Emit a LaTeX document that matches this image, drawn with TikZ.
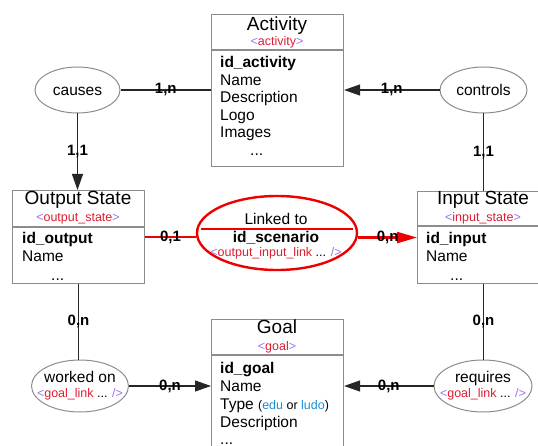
\documentclass[tikz,border=0pt]{standalone}
\usepackage{fontspec}
\setmainfont{Liberation Sans}
\usetikzlibrary{arrows.meta,shapes.geometric}
\definecolor{tagpurple}{HTML}{A070F0}
\definecolor{tagred}{HTML}{DC1E32}
\definecolor{boxgray}{HTML}{8C8C8C}
\definecolor{linkred}{HTML}{EE0000}
\definecolor{typeblue}{HTML}{1E8CD2}
\newcommand\tagtext[1]{\textcolor{tagpurple}{<}\textcolor{tagred}{#1}\textcolor{tagpurple}{>}}
\newcommand\tagopen[1]{\textcolor{tagpurple}{<}\textcolor{tagred}{#1} ... \textcolor{tagpurple}{/>}}
\begin{document}
\begin{tikzpicture}[x=1pt,y=-1pt,
  entity/.style={draw=boxgray, line width=1.1pt, inner sep=0, rectangle},
  sepline/.style={draw=boxgray, line width=1.1pt},
  rel/.style={ellipse, draw=boxgray, line width=1pt, inner sep=0},
  redrel/.style={ellipse, draw=linkred, line width=2.4pt, inner sep=0},
  title/.style={font=\fontsize{19}{22}\selectfont, anchor=base, inner sep=0},
  tag/.style={font=\fontsize{12.5}{14}\selectfont, anchor=base, inner sep=0},
  attr/.style={font=\fontsize{15.5}{17}\selectfont, anchor=base west, inner sep=0},
  reltext/.style={font=\fontsize{15.5}{17}\selectfont, anchor=base, inner sep=0},
  card/.style={font=\bfseries\fontsize{15}{17}\selectfont, inner sep=0, text=black},
  conn/.style={draw=black!85, line width=1.1pt},
  redconn/.style={draw=linkred, line width=2.4pt},
  arr/.style={-{Triangle[length=16pt,width=11pt]}},
  redarr/.style={-{Triangle[length=20pt,width=11pt]}}
]
\useasboundingbox (0,0) rectangle (538,446);
\clip (0,0) rectangle (538,446);

% ---------- Activity ----------
\node[entity, minimum width=132pt, minimum height=152pt, anchor=north west] (activity) at (211,14) {};
\draw[sepline] (211,50) -- (343,50);
\node[title] (activityT) at (277,31) {Activity};
\node[tag] (activityG) at (277,46) {\tagtext{activity}};
\node[attr] (a1) at (220,68) {\bfseries id\_activity};
\node[attr] (a2) at (220,86) {Name};
\node[attr] (a3) at (220,103) {Description};
\node[attr] (a4) at (220,121) {Logo};
\node[attr] (a5) at (220,138) {Images};
\node[attr] (a6) at (250,156) {...};

% ---------- Output State ----------
\node[entity, minimum width=132pt, minimum height=93pt, anchor=north west] (output) at (12,190) {};
\draw[sepline] (12,227) -- (144,227);
\node[title] (outputT) at (78,205) {Output State};
\node[tag] (outputG) at (78,222) {\tagtext{output\_state}};
\node[attr] (o1) at (22,244) {\bfseries id\_output};
\node[attr] (o2) at (22,262) {Name};
\node[attr] (o3) at (51,280) {...};

% ---------- Input State ----------
\node[entity, minimum width=132pt, minimum height=92pt, anchor=north west] (input) at (417,191) {};
\draw[sepline] (417,226) -- (549,226);
\node[title] (inputT) at (483,205) {Input State};
\node[tag] (inputG) at (483,222) {\tagtext{input\_state}};
\node[attr] (i1) at (426,244) {\bfseries id\_input};
\node[attr] (i2) at (426,262) {Name};
\node[attr] (i3) at (450,280) {...};

% ---------- Goal ----------
\node[entity, minimum width=132pt, minimum height=160pt, anchor=north west] (goal) at (211,319) {};
\draw[sepline] (211,355) -- (343,355);
\node[title] (goalT) at (277,334) {Goal};
\node[tag] (goalG) at (277,350) {\tagtext{goal}};
\node[attr] (g1) at (220,373) {\bfseries id\_goal};
\node[attr] (g2) at (220,391) {Name};
\node[attr] (g3) at (220,409) {Type {\fontsize{12.5}{14}\selectfont(\textcolor{typeblue}{edu} or \textcolor{typeblue}{ludo})}};
\node[attr] (g4) at (220,427) {Description};
\node[attr] (g5) at (220,444) {...};

% ---------- Relationships ----------
\node[rel, minimum width=85pt, minimum height=46pt] (causes) at (77.5,90) {};
\node[reltext] (causesT) at (77.5,96) {causes};
\node[rel, minimum width=87pt, minimum height=46pt] (controls) at (483.5,90) {};
\node[reltext] (controlsT) at (483.5,96) {controls};
\node[redrel, minimum width=160pt, minimum height=74pt] (linked) at (277,233) {};
\draw[draw=linkred, line width=1.2pt] (201,229) -- (353,229);
\node[reltext] (linkedT) at (276,225) {Linked to};
\node[reltext, font=\bfseries\fontsize{15.5}{17}\selectfont] (linkedK) at (276,243) {id\_scenario};
\node[tag] (linkedG) at (276,257) {\tagopen{output\_input\_link}};
\node[rel, minimum width=97pt, minimum height=52pt] (workedon) at (80,386) {};
\node[reltext] (workedonT) at (80,382) {worked on};
\node[tag] (workedonG) at (80,397) {\tagopen{goal\_link}};
\node[rel, minimum width=98pt, minimum height=52pt] (requires) at (483,386) {};
\node[reltext] (requiresT) at (483,382) {requires};
\node[tag] (requiresG) at (483,397) {\tagopen{goal\_link}};

% ---------- Connectors ----------
\draw[conn] (causes.east) -- (causes.east -| activity.west) node[card, midway] {1,n};
\draw[conn, arr] (causes.south) -- (causes.south |- output.north) node[card, midway] {1,1};
\draw[conn, arr] (controls.west) -- (controls.west -| activity.east) node[card, midway] {1,n};
\draw[conn] (controls.south) -- (controls.south |- input.north) node[card, midway] {1,1};
\draw[redconn] (output.east) -- (output.east -| linked.west) node[card, midway] {0,1};
\draw[redconn, redarr] (input.west -| linked.east) -- (input.west) node[card, midway] {0,n};
\draw[conn] (output.south) -- (output.south |- workedon.north) node[card, midway] {0,n};
\draw[conn, arr] (workedon.east) -- (workedon.east -| goal.west) node[card, midway] {0,n};
\draw[conn] (input.south) -- (input.south |- requires.north) node[card, midway] {0,n};
\draw[conn, arr] (requires.west) -- (requires.west -| goal.east) node[card, midway] {0,n};
\end{tikzpicture}
\end{document}
